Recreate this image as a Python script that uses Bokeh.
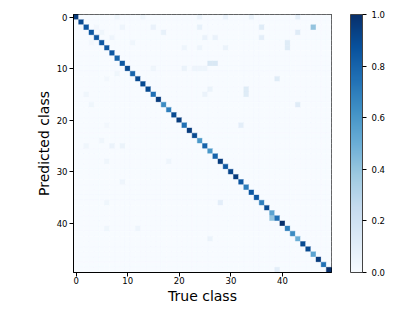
import numpy as np
from bokeh.plotting import figure
from bokeh.models import LinearColorMapper, ColorBar, FixedTicker, ColumnDataSource, PrintfTickFormatter
from bokeh.palettes import Blues256
from bokeh.embed import file_html
from bokeh.resources import INLINE

n_classes = 50
diag_vals = [0.95, 0.9, 0.85, 0.85, 0.85, 0.85, 0.85, 0.85, 0.8, 0.85,
             0.9, 0.8, 0.9, 0.9, 0.9, 0.75, 0.95, 0.65, 0.7, 0.9,
             0.95, 0.75, 0.95, 0.9, 0.6, 0.8, 0.6, 0.8, 0.95, 0.85,
             0.92, 0.95, 0.85, 0.7, 0.85, 0.85, 0.7, 0.9, 0.55, 0.75,
             1.0, 0.7, 0.65, 0.5, 0.9, 0.9, 0.55, 0.95, 0.75, 1.0]

off_rows = [0, 0, 0, 0, 0, 0, 2, 2, 2, 2, 2, 3, 3, 4, 4, 4, 4, 5, 5, 5, 6, 6, 6, 6, 6,
            9, 9, 10, 10, 10, 10, 10, 11, 12, 12, 14, 14, 15, 15, 15, 17, 17,
            21, 21, 24, 25, 25, 25, 28, 28, 32, 36, 36, 39, 41, 41, 43, 49, 3, 2]
off_cols = [8, 13, 24, 29, 34, 43, 4, 9, 15, 24, 36, 5, 17, 7, 25, 27, 36, 3, 11, 41, 21, 24, 29, 41, 24,
            26, 27, 15, 21, 23, 24, 25, 8, 6, 39, 26, 33, 2, 25, 33, 3, 43,
            6, 32, 5, 2, 7, 9, 6, 18, 9, 6, 28, 38, 6, 12, 26, 39, 43, 46]
off_vals = [0.04, 0.04, 0.06, 0.07, 0.07, 0.09, 0.03, 0.05, 0.07, 0.08, 0.12, 0.04, 0.08, 0.05, 0.07, 0.07, 0.1, 0.03, 0.04, 0.12, 0.05, 0.05, 0.06, 0.12, 0.05,
            0.15, 0.15, 0.04, 0.06, 0.05, 0.05, 0.05, 0.04, 0.03, 0.12, 0.06, 0.12, 0.04, 0.06, 0.12, 0.04, 0.12,
            0.03, 0.1, 0.04, 0.04, 0.06, 0.06, 0.04, 0.05, 0.05, 0.04, 0.1, 0.4, 0.04, 0.05, 0.06, 0.1, 0.12, 0.4]

x_ticks = [0, 10, 20, 30, 40]
cbar_ticks = [0.0, 0.2, 0.4, 0.6, 0.8, 1.0]

mat = np.zeros((n_classes, n_classes))
for i, v in enumerate(diag_vals):
    mat[i, i] = v
for r, c, v in zip(off_rows, off_cols, off_vals):
    mat[r, c] = v

rows, cols = np.meshgrid(np.arange(n_classes), np.arange(n_classes), indexing="ij")
src = ColumnDataSource(dict(x=cols.ravel(), y=rows.ravel(), v=mat.ravel()))

palette = list(Blues256)[::-1]
mapper = LinearColorMapper(palette=palette, low=0.0, high=1.0)

p = figure(frame_width=258, frame_height=258, output_backend="svg", toolbar_location=None,
           x_range=(-0.5, n_classes - 0.5), y_range=(n_classes - 0.5, -0.5),
           min_border_left=73, min_border_top=14, min_border_bottom=20, min_border_right=10)
p.rect(x="x", y="y", width=1, height=1, source=src,
       fill_color={"field": "v", "transform": mapper},
       line_color={"field": "v", "transform": mapper}, line_width=0.4)

for ax in (p.xaxis[0], p.yaxis[0]):
    ax.ticker = FixedTicker(ticks=x_ticks)
    ax.major_tick_out = 4
    ax.major_tick_in = 0
    ax.minor_tick_line_color = None
    ax.major_label_text_font = "DejaVu Sans"
    ax.major_label_text_font_size = "8.5px"
    ax.major_label_text_color = "black"
    ax.axis_label_text_font = "DejaVu Sans"
    ax.axis_label_text_font_size = "14px"
    ax.axis_label_text_font_style = "normal"
    ax.axis_label_text_color = "black"
    ax.axis_line_color = "black"
    ax.major_tick_line_color = "black"
    ax.major_label_standoff = 2
    ax.axis_label_standoff = 2
p.xaxis.major_label_standoff = 0
p.xaxis.axis_label_standoff = 1
p.xaxis.axis_label = "True class"
p.yaxis.axis_label = "Predicted class"
p.xgrid.grid_line_color = None
p.ygrid.grid_line_color = None
p.outline_line_color = "black"
p.outline_line_alpha = 1.0
p.background_fill_color = "white"

cb = ColorBar(color_mapper=mapper, width=12, height=258, location=(19, 0),
              padding=0, margin=0,
              ticker=FixedTicker(ticks=cbar_ticks),
              formatter=PrintfTickFormatter(format="%.1f"),
              major_label_text_font="DejaVu Sans", major_label_text_font_size="8.5px",
              major_label_text_color="black",
              major_tick_out=4, major_tick_in=0, major_tick_line_color="black",
              bar_line_color="#444444", bar_line_width=1,
              background_fill_alpha=0, border_line_alpha=0)
p.add_layout(cb, "right")

open("out.html", "w").write(file_html(p, INLINE))
